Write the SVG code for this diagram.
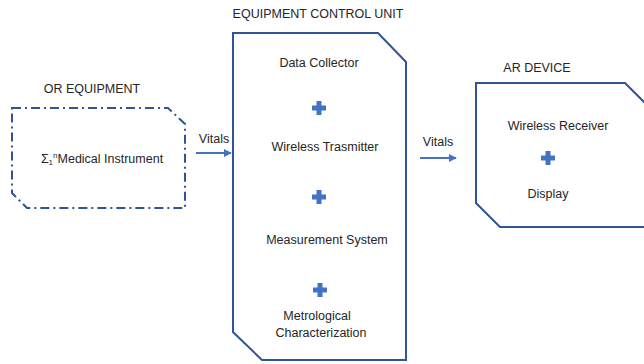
<svg xmlns="http://www.w3.org/2000/svg" width="644" height="364" viewBox="0 0 644 364">
<defs>
<style>
text{font-family:"Liberation Sans","Open Sans",sans-serif;font-size:12.5px;fill:#262626;text-anchor:middle}
.box{fill:#fff;stroke:#2F5597;stroke-width:2}
.dd{fill:#fff;stroke:#2F5597;stroke-width:2;stroke-dasharray:9 4 2 4}
.plus{fill:#4472C4}
.conn{stroke:#4472C4;stroke-width:2;fill:none;marker-end:url(#ah)}
</style>
<marker id="ah" viewBox="0 0 10 10" refX="9" refY="5" markerWidth="4" markerHeight="4" orient="auto" markerUnits="strokeWidth"><path d="M0,0 L10,5 L0,10 z" fill="#4472C4"/></marker>
<symbol id="p" viewBox="-7 -7 14 14"><path class="plus" d="M-2.5,-7 H2.5 V-2.5 H7 V2.5 H2.5 V7 H-2.5 V2.5 H-7 V-2.5 H-2.5 Z"/></symbol>
</defs>
<rect width="644" height="364" fill="#fff"/>
<g id="or-equipment">
<text x="92" y="93">OR EQUIPMENT</text>
<path class="dd" d="M12,108 H168 L185,124 V208 H27 L12,193 Z"/>
<text x="102" y="163" font-size="13.5">Σ<tspan font-size="8" dy="2">1</tspan><tspan font-size="8" dy="-7">n</tspan><tspan dy="5">Medical Instrument</tspan></text>
</g>
<g id="equipment-control-unit">
<text x="318" y="18">EQUIPMENT CONTROL UNIT</text>
<path class="box" d="M233,33 H378 L406,62 V360 H262 L233,332 Z"/>
<text x="319" y="67">Data Collector</text>
<use href="#p" x="312" y="101" width="14" height="14"/>
<text x="325" y="151">Wireless Trasmitter</text>
<use href="#p" x="312" y="190" width="14" height="14"/>
<text x="327" y="244">Measurement System</text>
<use href="#p" x="313" y="283" width="14" height="14"/>
<text x="317" y="320">Metrological</text>
<text x="321" y="337">Characterization</text>
</g>
<g id="ar-device">
<text x="537" y="72">AR DEVICE</text>
<path class="box" d="M476,83 H625 L646,104 V227 H500 L476,203 Z"/>
<text x="558" y="130">Wireless Receiver</text>
<use href="#p" x="541" y="151" width="14" height="14"/>
<text x="548" y="198">Display</text>
</g>
<g id="connectors">
<text x="214" y="143">Vitals</text>
<path class="conn" d="M196,153 H231"/>
<text x="438" y="146">Vitals</text>
<path class="conn" d="M420,158 H456"/>
</g>
</svg>
